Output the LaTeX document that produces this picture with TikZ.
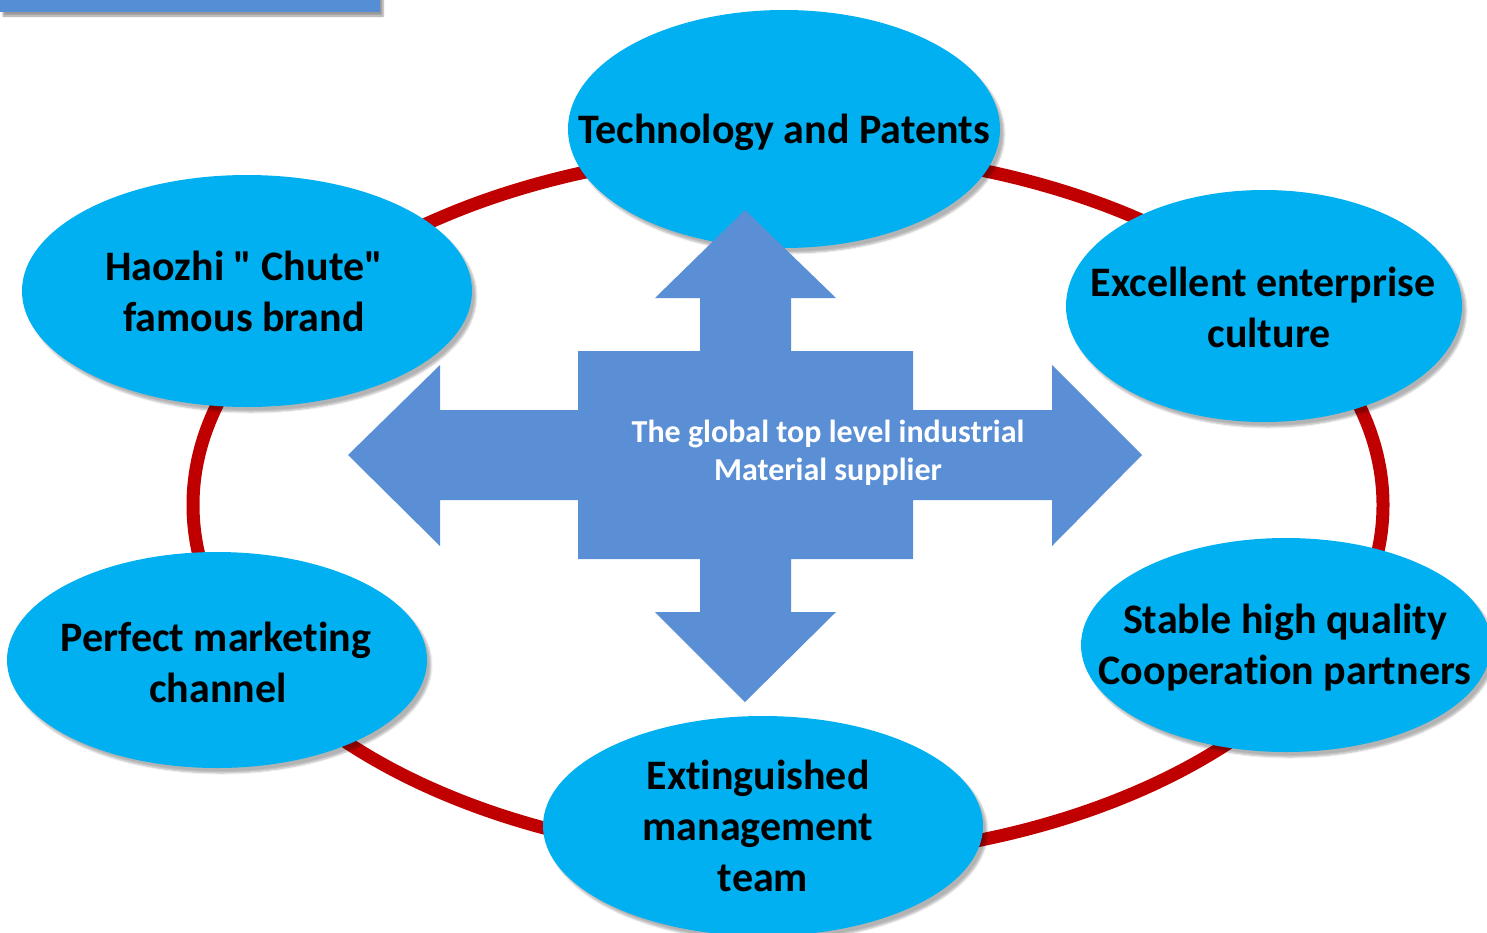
\documentclass[tikz,border=0pt]{standalone}
\usepackage{fontspec}
\setmainfont{Carlito}[Ligatures={TeXOff,CommonOff}]
\usetikzlibrary{shapes.geometric,shadows.blur}
\definecolor{ellblue}{HTML}{00B0F0}
\definecolor{crossblue}{HTML}{5B8FD5}
\definecolor{ringred}{HTML}{C00000}
\definecolor{barblue}{HTML}{558ED5}
\tikzset{
  ell/.style={ellipse, fill=ellblue, inner sep=0pt,
    blur shadow={shadow xshift=4pt, shadow yshift=-5pt, shadow blur steps=6, shadow opacity=30}},
  elltext/.style={align=center, text=black, inner sep=0pt,
    font=\fontsize{42}{51}\selectfont\bfseries},
  centertext/.style={align=center, text=white, inner sep=0pt,
    font=\fontsize{32}{38}\selectfont\bfseries},
}
\begin{document}
\begin{tikzpicture}[x=1pt,y=-1pt]
\useasboundingbox (0,0) rectangle (1487,932);
% top-left bar
\fill[barblue, blur shadow={shadow xshift=3pt, shadow yshift=-4pt, shadow blur steps=5, shadow opacity=40}] (0,-10) rectangle (380,12);
% red ring
\draw[ringred, line width=13pt] (788,505) ellipse [x radius=595, y radius=354];
% ellipses
\node[ell, minimum width=432, minimum height=238] (tech) at (784,129) {};
\node[ell, minimum width=450, minimum height=232] (brand) at (247,291) {};
\node[ell, minimum width=396, minimum height=232] (culture) at (1264,306) {};
\node[ell, minimum width=410, minimum height=214] (partners) at (1286,645) {};
\node[ell, minimum width=420, minimum height=216] (channel) at (217,660) {};
\node[ell, minimum width=440, minimum height=220] (team) at (763,826) {};
% texts
\node[elltext] (techt) at ([yshift=-3pt]tech.center) {Technology and Patents};
\node[elltext] (brandt) at ([xshift=-3pt,yshift=0pt]brand.center) {Haozhi " Chute"\\famous brand};
\node[elltext] (culturet) at ([xshift=-1pt,yshift=-1pt]culture.center) {Excellent enterprise\\\hspace*{12pt}culture};
\node[elltext] (partnerst) at ([xshift=-1pt,yshift=-3pt]partners.center) {Stable high quality\\Cooperation partners};
\node[elltext] (channelt) at ([xshift=-1pt,yshift=-2pt]channel.center) {Perfect marketing\\\hspace*{4pt}channel};
\node[elltext] (teamt) at ([xshift=-5pt,yshift=0pt]team.center) {Extinguished\\management\\\hspace*{10pt}team};
% cross of arrows
\fill[crossblue]
  (578,351) -- (700,351) -- (700,298) -- (655,298) -- (745,210) -- (836,298) -- (791,298) -- (791,351)
  -- (913,351) -- (913,410) -- (1052,410) -- (1052,365) -- (1142,455) -- (1052,546) -- (1052,500) -- (913,500)
  -- (913,559) -- (791,559) -- (791,612) -- (836,612) -- (745,702) -- (655,612) -- (700,612) -- (700,559)
  -- (578,559) -- (578,500) -- (440,500) -- (440,546) -- (348,455) -- (440,365) -- (440,410) -- (578,410) -- cycle;
\node[centertext] (core) at (828,453) {The global top level industrial\\Material supplier};
\end{tikzpicture}
\end{document}
